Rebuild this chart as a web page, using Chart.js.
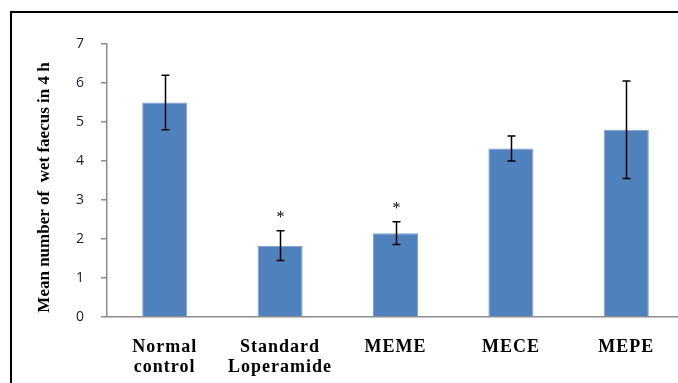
<!DOCTYPE html>
<html>
<head>
<meta charset="utf-8">
<script src="https://cdn.jsdelivr.net/npm/chart.js"></script>
<style>
  html, body { margin: 0; padding: 0; background: #fff; overflow: hidden; }
  #wrap { position: relative; width: 678px; height: 383px; overflow: hidden; }
  #frame {
    position: absolute; left: 10px; top: 11px; width: 700px; height: 400px;
    border-top: 2px solid #000; border-left: 2px solid #000;
  }
  #box { position: absolute; left: 0; top: 0; width: 684px; height: 383px; }
</style>
</head>
<body>
<div id="wrap">
  <div id="frame"></div>
  <div id="box"><canvas id="chart"></canvas></div>
</div>
<script>
// 組別
const categories = [['Normal', 'control'], ['Standard', 'Loperamide'], 'MEME', 'MECE', 'MEPE'];
// 平均值與誤差
const meanValues = [5.5, 1.83, 2.15, 4.32, 4.8];
const errorValues = [0.7, 0.38, 0.29, 0.32, 1.25];
// 顯著性標記
const marks = ['', '*', '*', '', ''];
const yTicks = [0, 1, 2, 3, 4, 5, 6, 7];
const yTitle = 'Mean number of  wet faecus in 4 h';

const BAR_COLOR = '#4F81BD';
const AXIS_COLOR = '#8c8c8c';

// 誤差線、星號與 Y 軸標題
const errorBarPlugin = {
    id: 'errorBars',
    beforeDraw(chart) {
        // 類別標籤字距較寬
        chart.ctx.letterSpacing = '1px';
    },
    beforeDatasetsDraw(chart) {
        chart.ctx.letterSpacing = '0px';
    },
    afterDatasetsDraw(chart) {
        const ctx = chart.ctx;
        const x = chart.scales.x;
        const y = chart.scales.y;
        ctx.save();
        ctx.strokeStyle = '#000';
        ctx.lineWidth = 1.5;
        meanValues.forEach((v, i) => {
            const cx = Math.round(x.getPixelForValue(i)) + 0.5;
            const top = y.getPixelForValue(v + errorValues[i]);
            const bot = y.getPixelForValue(v - errorValues[i]);
            ctx.beginPath();
            ctx.moveTo(cx, top);
            ctx.lineTo(cx, bot);
            ctx.moveTo(cx - 4, top);
            ctx.lineTo(cx + 4, top);
            ctx.moveTo(cx - 4, bot);
            ctx.lineTo(cx + 4, bot);
            ctx.stroke();
            if (marks[i]) {
                ctx.fillStyle = '#000';
                ctx.font = '16px "Liberation Serif"';
                ctx.textAlign = 'center';
                ctx.textBaseline = 'middle';
                ctx.fillText(marks[i], cx, top - 13);
            }
        });
        // Y 軸標題
        ctx.translate(45, (y.top + y.bottom) / 2 + 7);
        ctx.rotate(-Math.PI / 2);
        ctx.fillStyle = '#000';
        ctx.font = 'bold 17px "Liberation Serif"';
        ctx.textAlign = 'center';
        ctx.textBaseline = 'middle';
        ctx.fillText(yTitle, 0, 0);
        ctx.restore();
    }
};

new Chart(document.getElementById('chart'), {
    type: 'bar',
    data: {
        labels: categories,
        datasets: [{
            data: meanValues,
            backgroundColor: BAR_COLOR,
            borderColor: '#7b9fd0',
            borderWidth: 1,
            barPercentage: 0.39,
            categoryPercentage: 1
        }]
    },
    options: {
        responsive: true,
        maintainAspectRatio: false,
        animation: false,
        layout: { padding: { top: 44, left: 0, right: 0, bottom: 0 } },
        plugins: {
            legend: { display: false },
            tooltip: { enabled: false }
        },
        scales: {
            x: {
                grid: { display: false },
                border: { display: true, color: AXIS_COLOR, width: 1.5 },
                ticks: {
                    color: '#000',
                    padding: 12,
                    maxRotation: 0,
                    font: { family: '"Liberation Serif"', size: 18, weight: 'bold', lineHeight: 1.11 }
                },
                afterFit(scale) { scale.height = 66; }
            },
            y: {
                min: 0,
                max: 7,
                afterBuildTicks(scale) { scale.ticks = yTicks.map(v => ({ value: v })); },
                grid: {
                    drawOnChartArea: false,
                    drawTicks: true,
                    tickLength: 6,
                    color: AXIS_COLOR,
                    lineWidth: 1.5
                },
                border: { display: true, color: AXIS_COLOR, width: 1.5 },
                ticks: {
                    color: '#1a1a2e',
                    padding: 16,
                    font: { family: '"Open Sans"', size: 14 }
                },
                afterFit(scale) { scale.width = 107; }
            }
        }
    },
    plugins: [errorBarPlugin]
});
</script>
</body>
</html>
